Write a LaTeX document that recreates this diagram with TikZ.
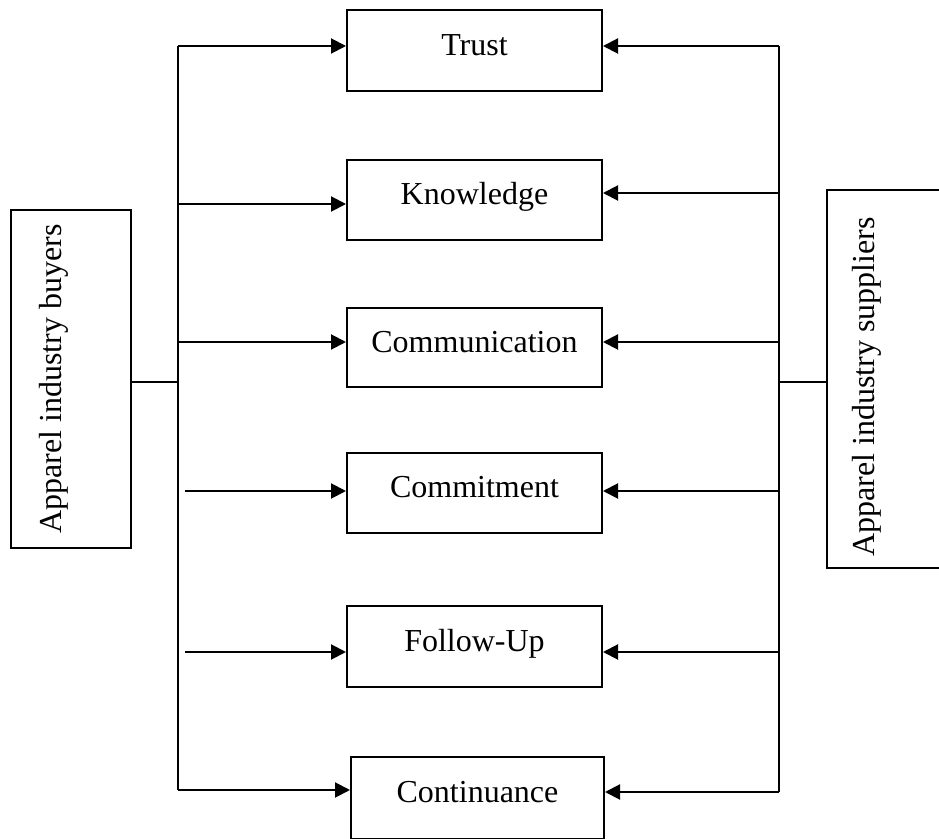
\documentclass[tikz,border=0pt]{standalone}
\usepackage{fontspec}
\setmainfont{Liberation Serif}
\usetikzlibrary{arrows.meta}

\begin{document}
\begin{tikzpicture}[x=0.5pt,y=-0.5pt,
  box/.style={draw=black,line width=1pt,minimum width=127.5pt,minimum height=40pt,inner sep=0pt,align=center,font=\fontsize{16}{19}\selectfont,text height=8.5pt,text depth=3.5pt},
  sidebox/.style={draw=black,line width=1pt,inner sep=0pt},
  sidelabel/.style={rotate=90,inner sep=0pt,font=\fontsize{16}{19}\selectfont},
  arrow/.style={-{Triangle[length=7.5pt,width=7.5pt]},line width=1pt},
  link/.style={line width=1pt}]
  \useasboundingbox (0,0) rectangle (939,839);
  \node[box,minimum height=40.5pt] (trust) at (474.5,50.5) {Trust};
  \node[box] (knowledge) at (474.5,200) {Knowledge};
  \node[box,minimum height=39.5pt] (communication) at (474.5,347.5) {Communication};
  \node[box] (commitment) at (474.5,493) {Commitment};
  \node[box,minimum height=40.5pt] (followup) at (474.5,646.5) {Follow-Up};
  \node[box,minimum width=126.5pt,minimum height=41pt] (continuance) at (477.5,798) {Continuance};
  \node[sidebox,minimum width=60pt,minimum height=169pt] (buyers) at (71,379) {};
  \node[sidelabel] (buyerslabel) at (54,379) {Apparel industry buyers};
  \node[sidebox,minimum width=61.5pt,minimum height=189pt] (suppliers) at (888.5,379) {};
  \node[sidelabel] (supplierslabel) at (867,387) {Apparel industry suppliers};
  % trunk points, buyers side
  \coordinate (btrust) at (178,46);
  \coordinate (bknow) at (178,204);
  \coordinate (bcomm) at (178,342);
  \coordinate (bjoin) at (178,382);
  \coordinate (bcommit) at (185,491);
  \coordinate (bfollow) at (185,652);
  \coordinate (bcont) at (178,790);
  % trunk points, suppliers side
  \coordinate (strust) at (779,46);
  \coordinate (sknow) at (779,193);
  \coordinate (scomm) at (779,342);
  \coordinate (sjoin) at (779,382);
  \coordinate (scommit) at (779,491);
  \coordinate (sfollow) at (779,652);
  \coordinate (scont) at (779,792);
  \draw[link] (btrust)--(bcont);
  \draw[link] (strust)--(scont);
  \draw[link] (buyers.east|-bjoin)--(bjoin);
  \draw[link] (sjoin)--(suppliers.west|-sjoin);
  \draw[arrow] (btrust)--(trust.west|-btrust);
  \draw[arrow] (bknow)--(knowledge.west|-bknow);
  \draw[arrow] (bcomm)--(communication.west|-bcomm);
  \draw[arrow] (bcommit)--(commitment.west|-bcommit);
  \draw[arrow] (bfollow)--(followup.west|-bfollow);
  \draw[arrow] (bcont)--(continuance.west|-bcont);
  \draw[arrow] (strust)--(trust.east|-strust);
  \draw[arrow] (sknow)--(knowledge.east|-sknow);
  \draw[arrow] (scomm)--(communication.east|-scomm);
  \draw[arrow] (scommit)--(commitment.east|-scommit);
  \draw[arrow] (sfollow)--(followup.east|-sfollow);
  \draw[arrow] (scont)--(continuance.east|-scont);
\end{tikzpicture}
\end{document}
